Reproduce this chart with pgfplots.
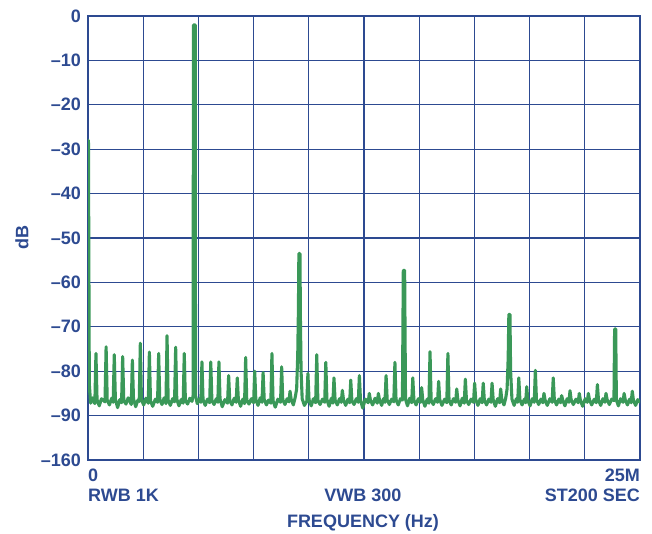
\documentclass[border=0pt]{standalone}
\usepackage{pgfplots}
\pgfplotsset{compat=1.18}
\usepackage{pgfplotstable}
\usepackage{fontspec}
\setmainfont{Liberation Sans}
\definecolor{adblue}{RGB}{45,74,145}
\definecolor{adgreen}{RGB}{58,152,88}
\pgfplotstableread{
x y
0.00 -84.5
0.02 -28
0.035 -50
0.06 -83
0.12 -87.2
0.21 -86.0
0.31 -87.3
0.36 -76
0.41 -86.4
0.51 -87.8
0.61 -86.2
0.77 -86.9
0.82 -74.5
0.87 -86.5
0.97 -87.6
1.07 -86.1
1.14 -87.0
1.19 -76.3
1.24 -86.3
1.34 -88.2
1.44 -86.4
1.52 -87.1
1.57 -76.7
1.62 -86.6
1.72 -87.4
1.82 -86.0
1.96 -87.5
2.01 -77.5
2.06 -86.2
2.16 -88.0
2.26 -86.5
2.32 -86.8
2.37 -73.7
2.42 -86.4
2.52 -87.6
2.62 -86.1
2.73 -87.2
2.78 -75.7
2.83 -86.7
2.93 -87.9
3.05 -86.3
3.15 -87.0
3.20 -76
3.25 -86.4
3.35 -87.5
3.45 -86.0
3.53 -87.3
3.58 -72
3.63 -86.5
3.73 -87.7
3.83 -86.2
3.92 -86.9
3.97 -74.6
4.02 -86.3
4.12 -87.8
4.22 -86.4
4.31 -87.2
4.36 -76
4.41 -86.6
4.51 -87.4
4.61 -86.1
4.71 -86.8
4.76 -85.5
4.775 -2
4.855 -2
4.87 -85.5
4.95 -87.3
5.05 -86.2
5.11 -87.0
5.16 -77.9
5.21 -86.4
5.31 -87.7
5.41 -86.3
5.51 -87.1
5.56 -77.9
5.61 -86.5
5.71 -87.5
5.81 -86.2
5.88 -87.0
5.93 -77.9
5.98 -86.3
6.08 -88.0
6.20 -86.4
6.32 -87.2
6.37 -81
6.42 -86.6
6.52 -87.6
6.62 -86.1
6.71 -87.0
6.76 -81.5
6.81 -86.4
6.91 -87.9
7.01 -86.3
7.09 -87.3
7.14 -76.9
7.19 -86.5
7.29 -87.4
7.40 -86.2
7.50 -87.1
7.55 -80
7.60 -86.4
7.70 -87.7
7.80 -86.0
7.88 -87.0
7.93 -80.3
7.98 -86.3
8.08 -87.6
8.18 -86.5
8.28 -87.2
8.33 -76
8.38 -86.6
8.48 -88.1
8.60 -86.3
8.72 -87.0
8.77 -79
8.82 -86.4
8.92 -87.5
9.02 -86.2
9.10 -86.9
9.15 -84.5
9.20 -86.3
9.30 -87.6
9.38 -86.0
9.45 -84
9.50 -76
9.53 -66
9.55 -53.5
9.60 -53.5
9.62 -68
9.65 -80
9.70 -86.2
9.80 -87.7
9.91 -86.8
9.96 -80.5
10.01 -86.4
10.11 -87.8
10.21 -86.2
10.31 -87.1
10.36 -76.3
10.41 -86.5
10.51 -87.5
10.62 -86.3
10.72 -87.0
10.77 -78
10.82 -86.4
10.92 -87.9
11.02 -86.1
11.09 -87.2
11.14 -81.5
11.19 -86.5
11.29 -87.6
11.39 -86.2
11.47 -87.0
11.52 -84.3
11.57 -86.4
11.67 -87.7
11.77 -86.3
11.85 -87.1
11.90 -82
11.95 -86.6
12.05 -87.5
12.15 -86.2
12.24 -87.0
12.29 -81
12.34 -86.4
12.44 -88.3
12.56 -86.3
12.69 -87.1
12.74 -85
12.79 -86.5
12.89 -87.6
13.00 -86.1
13.10 -87.2
13.15 -85
13.20 -86.4
13.30 -87.7
13.38 -86.2
13.45 -87.0
13.50 -81
13.55 -86.5
13.65 -87.5
13.75 -86.3
13.85 -86.9
13.90 -78
13.95 -86.4
14.05 -87.6
14.15 -86.2
14.24 -86.5
14.28 -57.3
14.34 -57.3
14.38 -86.3
14.47 -87.8
14.57 -86.1
14.66 -87.1
14.71 -81.5
14.76 -86.5
14.86 -87.6
14.96 -86.2
15.06 -87.0
15.11 -83.7
15.16 -86.4
15.26 -87.9
15.36 -86.3
15.44 -87.2
15.49 -75.6
15.54 -86.5
15.64 -87.5
15.74 -86.2
15.83 -87.0
15.88 -82.3
15.93 -86.4
16.03 -87.7
16.15 -86.3
16.25 -87.1
16.30 -76
16.35 -86.5
16.45 -87.6
16.55 -86.2
16.65 -87.0
16.70 -84
16.75 -86.4
16.85 -87.8
16.95 -86.1
17.04 -87.2
17.09 -81.8
17.14 -86.5
17.24 -87.5
17.35 -86.3
17.46 -87.0
17.51 -82.7
17.56 -86.4
17.66 -87.7
17.76 -86.2
17.85 -87.1
17.90 -82.7
17.95 -86.5
18.05 -87.6
18.15 -86.3
18.25 -87.0
18.30 -82.7
18.35 -86.4
18.45 -87.9
18.55 -86.2
18.64 -87.1
18.69 -84
18.74 -86.4
18.84 -87.6
18.92 -86
18.98 -84
19.03 -77
19.06 -67.2
19.11 -67.2
19.14 -80
19.20 -86.3
19.30 -87.7
19.40 -86.2
19.46 -87.0
19.51 -81.5
19.56 -86.4
19.66 -87.6
19.76 -86.3
19.82 -87.1
19.87 -83.5
19.92 -86.5
20.02 -87.8
20.12 -86.2
20.21 -87.0
20.26 -79.8
20.31 -86.4
20.41 -87.5
20.51 -86.3
20.60 -87.1
20.65 -85
20.70 -86.5
20.80 -87.7
20.92 -86.2
21.02 -87.0
21.07 -81.5
21.12 -86.4
21.22 -87.6
21.32 -86.3
21.40 -87.1
21.45 -85.5
21.50 -86.5
21.60 -87.8
21.70 -86.2
21.78 -87.0
21.83 -84.4
21.88 -86.4
21.98 -87.5
22.10 -86.3
22.20 -87.1
22.25 -85
22.30 -86.5
22.40 -87.9
22.52 -86.2
22.61 -87.0
22.66 -85
22.71 -86.4
22.81 -87.6
22.93 -86.3
23.02 -87.1
23.07 -83
23.12 -86.5
23.22 -87.7
23.32 -86.2
23.41 -87.0
23.46 -85
23.51 -86.4
23.61 -87.5
23.72 -86.3
23.82 -86.6
23.85 -70.5
23.90 -70.5
23.93 -86.5
24.02 -87.8
24.12 -86.2
24.23 -87.0
24.28 -85
24.33 -86.4
24.43 -87.6
24.53 -86.3
24.60 -87.1
24.65 -84.5
24.70 -86.5
24.80 -87.7
24.90 -86.4
25.00 -87.0
}\spectrum
\begin{document}
\begin{tikzpicture}[font=\bfseries\fontsize{18}{21}\selectfont, text=adblue]
\begin{axis}[
  scale only axis,
  width=552pt, height=444pt,
  xmin=0, xmax=25, ymin=-100, ymax=0,
  xtick={0,2.5,...,25},
  ytick={-100,-90,-80,-70,-60,-50,-40,-30,-20,-10,0},
  yticklabels={–160,–90,–80,–70,–60,–50,–40,–30,–20,–10,0},
  xticklabels={},
  major tick length=0pt,
  grid=major,
  major grid style={adblue, line width=1.1pt},
  axis line style={adblue, line width=2pt},
  yticklabel style={font=\bfseries\fontsize{18}{21}\selectfont, text=adblue, inner sep=0pt, xshift=-7pt},
  clip=true,
]
\addplot[adgreen, line width=3.1pt, line join=round, line cap=round] table[x=x, y=y] {\spectrum};
\end{axis}
\begin{scope}[every node/.style={inner sep=0pt}]
\node[anchor=base west] at (0pt,-22pt) {0};
\node[anchor=base east] at (552pt,-22pt) {25M};
\node[anchor=base west] at (0pt,-41.5pt) {RWB 1K};
\node[anchor=base] at (275pt,-41.5pt) {VWB 300};
\node[anchor=base east] at (552pt,-41.5pt) {ST200 SEC};
\node[anchor=base] at (275pt,-67.5pt) {FREQUENCY (Hz)};
\node[rotate=90, anchor=center] at (-66pt,222pt) {dB};
\end{scope}
\pgfresetboundingbox
\path[use as bounding box] (-88pt,-74pt) rectangle (564pt,460pt);
\end{tikzpicture}
\end{document}
